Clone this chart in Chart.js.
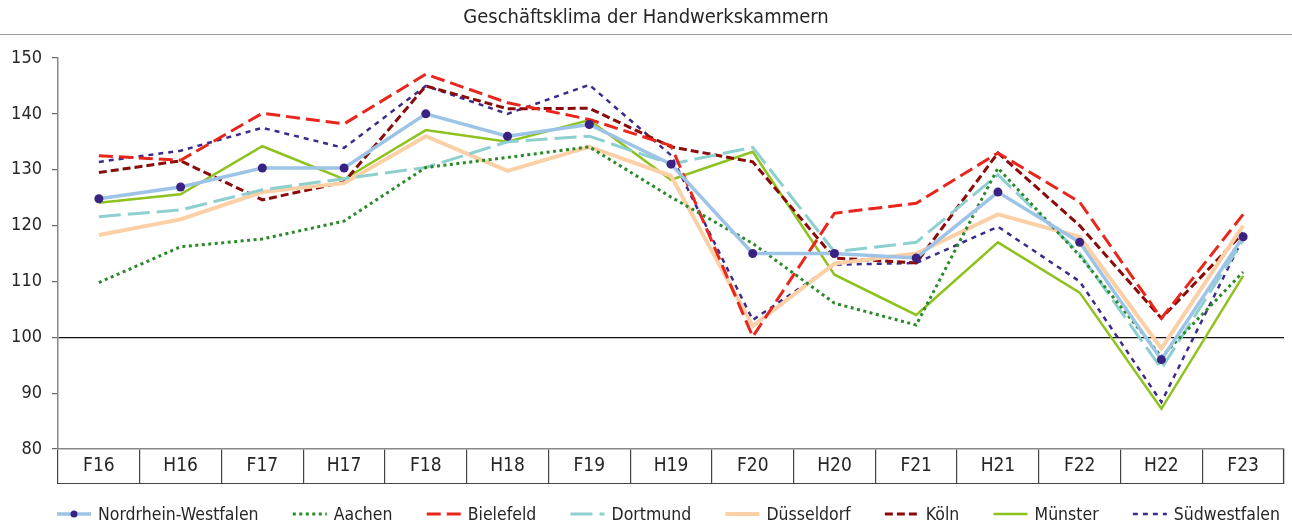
<!DOCTYPE html>
<html lang="de">
<head>
<meta charset="utf-8">
<title>Geschäftsklima der Handwerkskammern</title>
<script src="https://cdn.jsdelivr.net/npm/chart.js@4.4.1/dist/chart.umd.min.js"></script>
<style>
  html, body { margin: 0; padding: 0; background: #fff; }
  #wrap { width: 1292px; height: 527px; position: relative; }
</style>
</head>
<body>
<div id="wrap"><canvas id="klimaChart"></canvas></div>
<script>
const titel = 'Geschäftsklima der Handwerkskammern';
const kategorien = ['F16', 'H16', 'F17', 'H17', 'F18', 'H18', 'F19', 'H19', 'F20', 'H20', 'F21', 'H21', 'F22', 'H22', 'F23'];
const yTicks = [80, 90, 100, 110, 120, 130, 140, 150];

const nrw = [124.8, 126.9, 130.3, 130.3, 140, 136, 138.1, 131, 115, 115, 114.2, 126, 117, 96, 118];
const aachen = [109.8, 116.2, 117.6, 120.8, 130.4, 132.2, 134.1, 125.1, 116.8, 106.1, 102.2, 130.3, 114.6, 96.5, 111.7];
const bielefeld = [132.5, 131.7, 140.1, 138.2, 147.1, 142, 139, 134.3, 100.1, 122.2, 124, 133, 124.2, 103.4, 122];
const dortmund = [121.6, 122.8, 126.4, 128.4, 130.4, 135, 136, 131, 134, 115.3, 117, 129.1, 115, 94.4, 117.4];
const duesseldorf = [118.3, 121.1, 126, 127.6, 136, 129.8, 134.1, 128.9, 102, 113.2, 115, 122, 118, 98, 120];
const koeln = [129.5, 131.6, 124.6, 127.8, 145, 140.9, 141, 134.1, 131.4, 114.2, 113.3, 133, 120, 103.4, 118.7];
const muenster = [124.1, 125.6, 134.2, 128.3, 137.1, 135, 138.9, 128.2, 133.2, 111.2, 104, 117, 108, 87.2, 111];
const suedwestfalen = [131.4, 133.4, 137.5, 133.9, 145, 140, 145.2, 132.6, 103.1, 113, 113.3, 119.8, 110, 88.4, 117.8];

const schrift = "'Liberation Sans Narrow', 'DejaVu Sans Condensed', sans-serif";
const textFarbe = '#262626';

function linie(label, data, farbe, breite, dash) {
    return {
        label: label,
        data: data,
        borderColor: farbe,
        backgroundColor: farbe,
        borderWidth: breite,
        borderDash: dash,
        pointRadius: 0,
        tension: 0,
        fill: false
    };
}

const datasets = [
    Object.assign(linie('Nordrhein-Westfalen', nrw, '#9DC3E6', 3.5, []), {
        pointRadius: 4.5,
        pointBackgroundColor: '#3A2283',
        pointBorderWidth: 0
    }),
    linie('Aachen', aachen, '#2A8A2A', 3, [3, 3.5]),
    linie('Bielefeld', bielefeld, '#E8261C', 3, [14, 6]),
    linie('Dortmund', dortmund, '#8ECFCF', 3, [22, 7]),
    linie('Düsseldorf', duesseldorf, '#FCD0A6', 4, []),
    linie('Köln', koeln, '#8B0A0A', 3, [8, 4]),
    linie('Münster', muenster, '#8DC21F', 2.5, []),
    linie('Südwestfalen', suedwestfalen, '#3C2A8C', 2.5, [5, 5])
];

// Titel, Tabellenrahmen unter der x-Achse und Legende mit Linienmustern
const rahmenUndLegende = {
    id: 'rahmenUndLegende',
    afterDraw(chart) {
        const ctx = chart.ctx;
        const area = chart.chartArea;
        const xAchse = chart.scales.x;
        ctx.save();

        ctx.font = '20px ' + schrift;
        ctx.fillStyle = textFarbe;
        ctx.textAlign = 'center';
        ctx.textBaseline = 'middle';
        ctx.fillText(titel, chart.width / 2, 18);
        ctx.strokeStyle = '#9a9a9a';
        ctx.lineWidth = 1;
        ctx.beginPath();
        ctx.moveTo(0, 34.5);
        ctx.lineTo(chart.width, 34.5);
        ctx.stroke();

        ctx.strokeStyle = '#444';
        ctx.lineWidth = 1.2;
        ctx.beginPath();
        ctx.moveTo(area.left, xAchse.bottom - 0.5);
        ctx.lineTo(area.right, xAchse.bottom - 0.5);
        ctx.moveTo(area.right - 0.5, area.bottom);
        ctx.lineTo(area.right - 0.5, xAchse.bottom);
        ctx.stroke();

        // Legende: von x=57 bis x=1280, Abstände gleichmäßig verteilt
        ctx.font = '17.5px ' + schrift;
        const linienLaenge = 34, abstandText = 7;
        const start = 57, ende = 1280;
        const breiten = chart.data.datasets.map(ds => ctx.measureText(ds.label).width);
        let summe = 0;
        breiten.forEach(b => { summe += linienLaenge + abstandText + b; });
        const abstandItem = (ende - start - summe) / (breiten.length - 1);
        let x = start;
        const y = 514;
        ctx.textAlign = 'left';
        chart.data.datasets.forEach((ds, i) => {
            ctx.strokeStyle = ds.borderColor;
            ctx.lineWidth = ds.borderWidth;
            ctx.setLineDash(ds.borderDash || []);
            ctx.beginPath();
            ctx.moveTo(x, y);
            ctx.lineTo(x + linienLaenge, y);
            ctx.stroke();
            ctx.setLineDash([]);
            if (ds.pointRadius > 0) {
                ctx.fillStyle = ds.pointBackgroundColor;
                ctx.beginPath();
                ctx.arc(x + linienLaenge / 2, y, 3.5, 0, Math.PI * 2);
                ctx.fill();
            }
            ctx.fillStyle = textFarbe;
            ctx.fillText(ds.label, x + linienLaenge + abstandText, y + 1);
            x += linienLaenge + abstandText + breiten[i] + abstandItem;
        });
        ctx.restore();
    }
};

new Chart(document.getElementById('klimaChart').getContext('2d'), {
    type: 'line',
    data: { labels: kategorien, datasets: datasets },
    options: {
        responsive: true,
        maintainAspectRatio: false,
        animation: false,
        layout: { padding: { top: 58, bottom: 43, left: 0, right: 8 } },
        plugins: {
            legend: { display: false },
            title: { display: false },
            tooltip: { enabled: false }
        },
        scales: {
            x: {
                offset: true,
                grid: {
                    offset: true,
                    drawOnChartArea: false,
                    tickLength: 35,
                    color: '#444',
                    lineWidth: 1.2
                },
                border: { display: true, color: '#888', width: 1.5 },
                ticks: {
                    color: textFarbe,
                    font: { family: schrift, size: 19 },
                    padding: -29,
                    maxRotation: 0,
                    autoSkip: false
                },
                afterFit(scale) { scale.height = 35; }
            },
            y: {
                min: 80,
                max: 150,
                afterBuildTicks(scale) { scale.ticks = yTicks.map(v => ({ value: v })); },
                grid: {
                    color: c => c.tick && c.tick.value === 100 ? '#111' : 'rgba(0,0,0,0)',
                    tickColor: '#666',
                    tickLength: 6,
                    lineWidth: 1.2
                },
                border: { display: true, color: '#888', width: 1.5 },
                ticks: {
                    color: textFarbe,
                    font: { family: schrift, size: 18 },
                    padding: 10
                },
                afterFit(scale) { scale.width = 58; }
            }
        }
    },
    plugins: [rahmenUndLegende]
});
</script>
</body>
</html>
